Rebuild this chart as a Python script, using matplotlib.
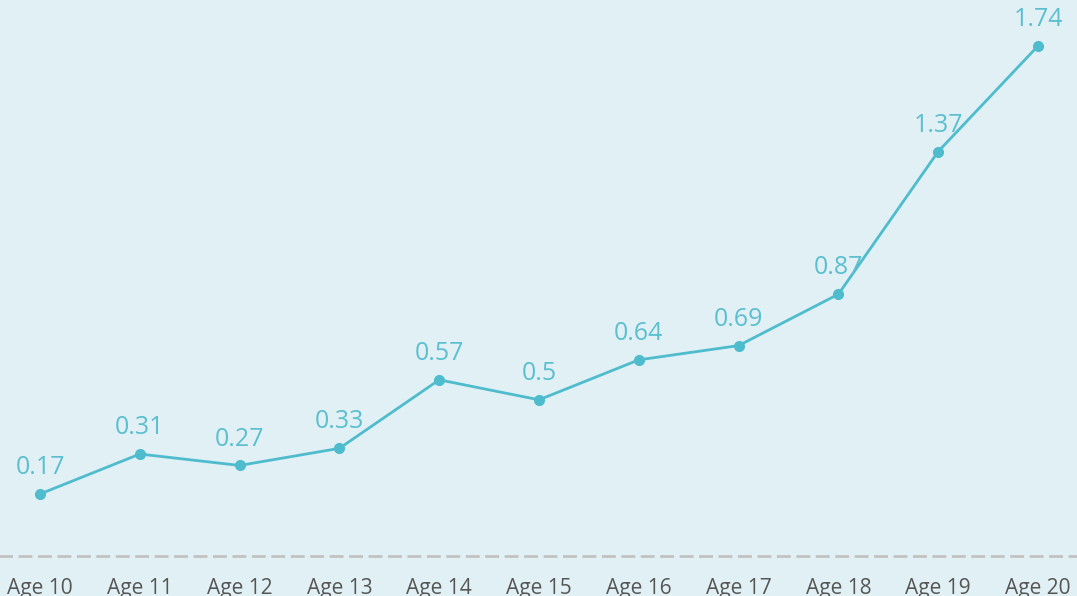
import matplotlib.pyplot as plt

ages = ['Age 10', 'Age 11', 'Age 12', 'Age 13', 'Age 14', 'Age 15',
        'Age 16', 'Age 17', 'Age 18', 'Age 19', 'Age 20']
values = [0.17, 0.31, 0.27, 0.33, 0.57, 0.5, 0.64, 0.69, 0.87, 1.37, 1.74]

bg = '#e1f0f4'
line_color = '#4ebccd'
label_color = '#5bbfd0'

plt.rcParams['font.family'] = ['Open Sans', 'DejaVu Sans']

fig = plt.figure(figsize=(10.77, 5.96), dpi=100, facecolor=bg)
ax = fig.add_axes([0, 40 / 596, 1, 556 / 596], facecolor=bg)

x = list(range(len(ages)))
ax.plot(x, values, color=line_color, lw=2, marker='o', ms=7, zorder=3)

for xi, v in zip(x, values):
    ax.annotate(f'{v:g}', (xi, v), xytext=(0, 10), textcoords='offset points',
                ha='center', va='bottom', fontsize=18, color=label_color)

ax.set_xlim(-0.401, 10.391)
ax.set_ylim(-0.0473, 1.901)
ax.set_xticks(x)
ax.set_xticklabels(ages, fontsize=15, color='#555555')
ax.tick_params(axis='x', length=0, pad=16)
ax.set_yticks([])

for side in ['top', 'left', 'right']:
    ax.spines[side].set_visible(False)
ax.spines['bottom'].set_color('#c2c2c2')
ax.spines['bottom'].set_linewidth(2)
ax.spines['bottom'].set_linestyle((0, (4, 3)))

fig.savefig('out.png', dpi=100, facecolor=bg)
